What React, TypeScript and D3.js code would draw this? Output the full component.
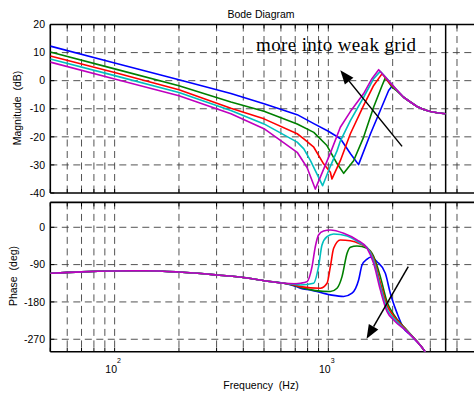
import React from 'react';
import * as d3 from 'd3';

type P = [number, number];

// ---- axis ticks ----
const magTicks = [20, 10, 0, -10, -20, -30, -40];
const phaseTicks = [0, -90, -180, -270];
const decadeTicks = [100, 1000];
const decadeExps = ['2', '3'];
const nyquistHz = 3540;

// ---- magnitude (Hz, dB) ----
const magTail: P[] = [[2250, -5.9], [2420, -7.6], [2600, -9.2], [2790, -10.3], [3000, -11.0], [3230, -11.4], [3530, -11.8]];
const magBlue: P[] = [[50, 12.3], [100, 6.3], [200, 0.3], [350, -4.6], [500, -8.2], [715, -12.1], [855, -15.3], [1000, -18.0], [1140, -20.7], [1270, -26.0], [1385, -29.9], [1575, -18.9], [1750, -10.6], [1915, -3.5], [1985, -2.0], [2100, -3.6]];
const magGreen: P[] = [[50, 10.2], [100, 4.2], [200, -1.8], [350, -7.6], [500, -10.9], [715, -15.4], [855, -18.4], [985, -23.1], [1100, -29.6], [1180, -33.0], [1313, -28.5], [1463, -20.1], [1630, -9.4], [1785, -1.7], [1850, 1.1], [1985, -2.3], [2100, -3.7]];
const magRed: P[] = [[50, 8.8], [100, 2.9], [200, -3.2], [350, -9.8], [500, -13.6], [715, -18.9], [768, -20.7], [855, -23.7], [950, -29.6], [1022, -32.6], [1040, -35.0], [1138, -28.5], [1268, -18.9], [1463, -8.8], [1630, -1.7], [1785, 2.5], [1915, -0.5], [2100, -3.6]];
const magCyan: P[] = [[50, 7.7], [100, 1.8], [200, -4.2], [350, -10.6], [500, -15.4], [715, -21.9], [768, -24.3], [825, -28.5], [940, -37.4], [1022, -30.5], [1098, -25.0], [1138, -21.5], [1268, -14.2], [1463, -5.9], [1630, 0.7], [1750, 3.3], [1883, 0.7], [2100, -3.5]];
const magMagenta: P[] = [[50, 6.6], [100, 0.6], [200, -5.4], [350, -11.8], [500, -17.1], [715, -25.5], [795, -30.9], [869, -38.6], [1022, -25.8], [1138, -16.6], [1268, -11.0], [1463, -4.6], [1600, 0.7], [1720, 3.9], [1848, 1.3], [2100, -3.4]];

// ---- phase (Hz, deg) ----
const phaseLow: P[] = [[50, -111], [70, -107.5], [100, -105.4], [140, -104.8], [200, -108], [300, -115], [400, -121], [520, -130], [620, -135]];
const phaseBlue: P[] = [[700, -142], [740, -147], [824, -151], [1022, -163], [1179, -167], [1291, -159], [1386, -127], [1438, -91], [1518, -77], [1573, -72.3], [1690, -83], [1848, -111], [1950, -159], [2097, -207], [2251, -243.5], [2420, -259.6], [2800, -296], [2850, -302]];
const phaseGreen: P[] = [[700, -141], [740, -145], [1022, -155], [1098, -147], [1159, -119], [1224, -62.7], [1268, -48.2], [1362, -45], [1518, -50.6], [1629, -70], [1751, -119], [1883, -180], [2021, -210], [2335, -248.5], [2800, -296], [2850, -302]];
const phaseRed: P[] = [[700, -140], [740, -143], [917, -147], [986, -135], [1022, -95], [1059, -50.6], [1138, -30.6], [1268, -32.3], [1411, -40.3], [1518, -49], [1629, -75], [1751, -133], [1883, -189], [2021, -214], [2335, -249.5], [2800, -296], [2850, -302]];
const phaseCyan: P[] = [[700, -138], [740, -139], [853, -135], [900, -95], [934, -42.7], [986, -22.7], [1059, -16.2], [1224, -21], [1411, -38.6], [1518, -49], [1629, -80], [1751, -142], [1883, -197], [2021, -219], [2335, -250.5], [2800, -296], [2850, -302]];
const phaseMagenta: P[] = [[700, -136], [740, -135], [795, -131], [839, -95], [869, -47], [900, -18.6], [950, -9], [1022, -6.5], [1180, -14.5], [1362, -30.6], [1518, -50.6], [1629, -86.8], [1751, -151], [1883, -203.5], [2021, -223.5], [2335, -251.7], [2800, -296], [2850, -302]];

const seriesColors = ['#0000ff', '#008000', '#ff0000', '#00bfbf', '#bf00bf'];

// ---- annotations (data coordinates) ----
const noteText = 'more into weak grid';
const noteAt: P = [459, 10.6];
const magArrow: [P, P] = [[2213, -23.4], [1138, 3.7]];
const phaseArrow: [P, P] = [[2366, -95], [1510, -269]];

const SANS = '"Liberation Sans", Arial, Helvetica, sans-serif';
const SERIF = '"Liberation Serif", "Times New Roman", serif';

function Arrow({ x1, y1, x2, y2 }: { x1: number; y1: number; x2: number; y2: number }) {
  const ang = Math.atan2(y2 - y1, x2 - x1);
  const L = 14, Wd = 5.5;
  const bx = x2 - L * Math.cos(ang), by = y2 - L * Math.sin(ang);
  const px = -Math.sin(ang), py = Math.cos(ang);
  const pts = `${x2},${y2} ${bx + px * Wd},${by + py * Wd} ${bx - px * Wd},${by - py * Wd}`;
  return (
    <g>
      <line x1={x1} y1={y1} x2={bx} y2={by} stroke="#000" strokeWidth={1.5} />
      <polygon points={pts} fill="#000" />
    </g>
  );
}

export default function App() {
  const W = 474, H = 393;
  const x = d3.scaleLog().domain([50, 5000]).range([50.3, 477.7]);
  const yMag = d3.scaleLinear().domain([-40, 20]).range([193, 24.5]);
  const yPh = d3.scaleLinear().domain([-300, 60]).range([351.7, 202.4]);
  const xL = x.range()[0], xR = x.range()[1];
  const xTicks = x.ticks();
  const xGrid = xTicks.filter((t) => t > 50 && t < 5000);

  const magLine = d3.line<P>().x((d) => x(d[0])).y((d) => yMag(d[1])).curve(d3.curveLinear);
  const phLine = d3.line<P>().x((d) => x(d[0])).y((d) => yPh(d[1])).curve(d3.curveMonotoneX);

  const magSeries = [
    [...magBlue, ...magTail],
    [...magGreen, ...magTail],
    [...magRed, ...magTail],
    [...magCyan, ...magTail],
    [...magMagenta, ...magTail],
  ];
  const phSeries = [
    [...phaseLow, ...phaseBlue],
    [...phaseLow, ...phaseGreen],
    [...phaseLow, ...phaseRed],
    [...phaseLow, ...phaseCyan],
    [...phaseLow, ...phaseMagenta],
  ];

  const gridStyle = { stroke: '#404040', strokeWidth: 0.9, strokeDasharray: '7,4.5', fill: 'none' };

  const panel = (
    y: d3.ScaleLinear<number, number>,
    ticks: number[],
    id: string,
    showXLabels: boolean,
  ) => {
    const [yB, yT] = y.range();
    return (
      <g>
        <defs>
          <clipPath id={id}>
            <rect x={xL} y={yT} width={xR - xL} height={yB - yT} />
          </clipPath>
        </defs>
        <rect x={xL} y={yT} width={xR - xL} height={yB - yT} fill="#fff" />
        {/* grid */}
        {xGrid.map((t) => (
          <line key={'gx' + t} x1={x(t)} x2={x(t)} y1={yT} y2={yB} style={gridStyle} />
        ))}
        {ticks
          .filter((t) => y(t) > yT + 1 && y(t) < yB - 1)
          .map((t) => (
            <line key={'gy' + t} x1={xL} x2={xR} y1={y(t)} y2={y(t)} style={gridStyle} />
          ))}
        {/* ticks */}
        {xTicks.map((t) => (
          <g key={'tx' + t}>
            <line x1={x(t)} x2={x(t)} y1={yB} y2={yB - 4} stroke="#000" strokeWidth={1} />
            <line x1={x(t)} x2={x(t)} y1={yT} y2={yT + 4} stroke="#000" strokeWidth={1} />
          </g>
        ))}
        {ticks.map((t) => (
          <g key={'ty' + t}>
            <line x1={xL} x2={xL + 4} y1={y(t)} y2={y(t)} stroke="#000" strokeWidth={1} />
            <text x={45} y={y(t)} dy="0.35em" textAnchor="end" fontFamily={SANS} fontSize={10.5} fill="#000">
              {t}
            </text>
          </g>
        ))}
        {/* border */}
        <line x1={xL} x2={xR} y1={yT} y2={yT} stroke="#000" strokeWidth={1.6} />
        <line x1={xL} x2={xR} y1={yB} y2={yB} stroke="#000" strokeWidth={1.6} />
        <line x1={xL} x2={xL} y1={yT} y2={yB} stroke="#000" strokeWidth={1.6} />
        <line x1={x(nyquistHz)} x2={x(nyquistHz)} y1={yT} y2={yB} stroke="#000" strokeWidth={1.5} />
        {showXLabels &&
          decadeTicks.map((t, i) => (
            <text key={'xl' + t} x={x(t) - 1.5} y={373} textAnchor="middle" fontFamily={SANS} fontSize={10.5} fill="#000">
              10
              <tspan dy={-10} fontSize={7}>
                {decadeExps[i]}
              </tspan>
            </text>
          ))}
      </g>
    );
  };

  const a1 = magArrow.map((p) => [x(p[0]), yMag(p[1])]);
  const a2 = phaseArrow.map((p) => [x(p[0]), yPh(p[1])]);

  return (
    <svg width={W} height={H} style={{ position: 'absolute', left: 0, top: 0, background: '#fff' }}>
      <rect x={0} y={0} width={W} height={H} fill="#fff" />
      {panel(yMag, magTicks, 'clipMag', false)}
      {panel(yPh, phaseTicks, 'clipPh', true)}
      <g clipPath="url(#clipMag)">
        {magSeries.map((s, i) => (
          <path key={'m' + i} d={magLine(s) || ''} fill="none" stroke={seriesColors[i]} strokeWidth={1.6} strokeLinejoin="round" />
        ))}
      </g>
      <g clipPath="url(#clipPh)">
        {phSeries.map((s, i) => (
          <path key={'p' + i} d={phLine(s) || ''} fill="none" stroke={seriesColors[i]} strokeWidth={1.6} strokeLinejoin="round" />
        ))}
      </g>
      <text x={261} y={17.5} textAnchor="middle" fontFamily={SANS} fontSize={10.5} fill="#000">
        Bode Diagram
      </text>
      <text x={261} y={389} textAnchor="middle" fontFamily={SANS} fontSize={10.5} fill="#000" style={{ whiteSpace: 'pre' }}>
        {'Frequency  (Hz)'}
      </text>
      <text transform="translate(20.5,108) rotate(-90)" textAnchor="middle" fontFamily={SANS} fontSize={10.5} fill="#000" style={{ whiteSpace: 'pre' }}>
        {'Magnitude  (dB)'}
      </text>
      <text transform="translate(17,276) rotate(-90)" textAnchor="middle" fontFamily={SANS} fontSize={10.5} fill="#000" style={{ whiteSpace: 'pre' }}>
        {'Phase  (deg)'}
      </text>
      <text x={x(noteAt[0])} y={yMag(noteAt[1])} fontFamily={SERIF} fontSize={19} textLength={160} lengthAdjust="spacing" fill="#000">
        {noteText}
      </text>
      <Arrow x1={a1[0][0]} y1={a1[0][1]} x2={a1[1][0]} y2={a1[1][1]} />
      <Arrow x1={a2[0][0]} y1={a2[0][1]} x2={a2[1][0]} y2={a2[1][1]} />
    </svg>
  );
}
